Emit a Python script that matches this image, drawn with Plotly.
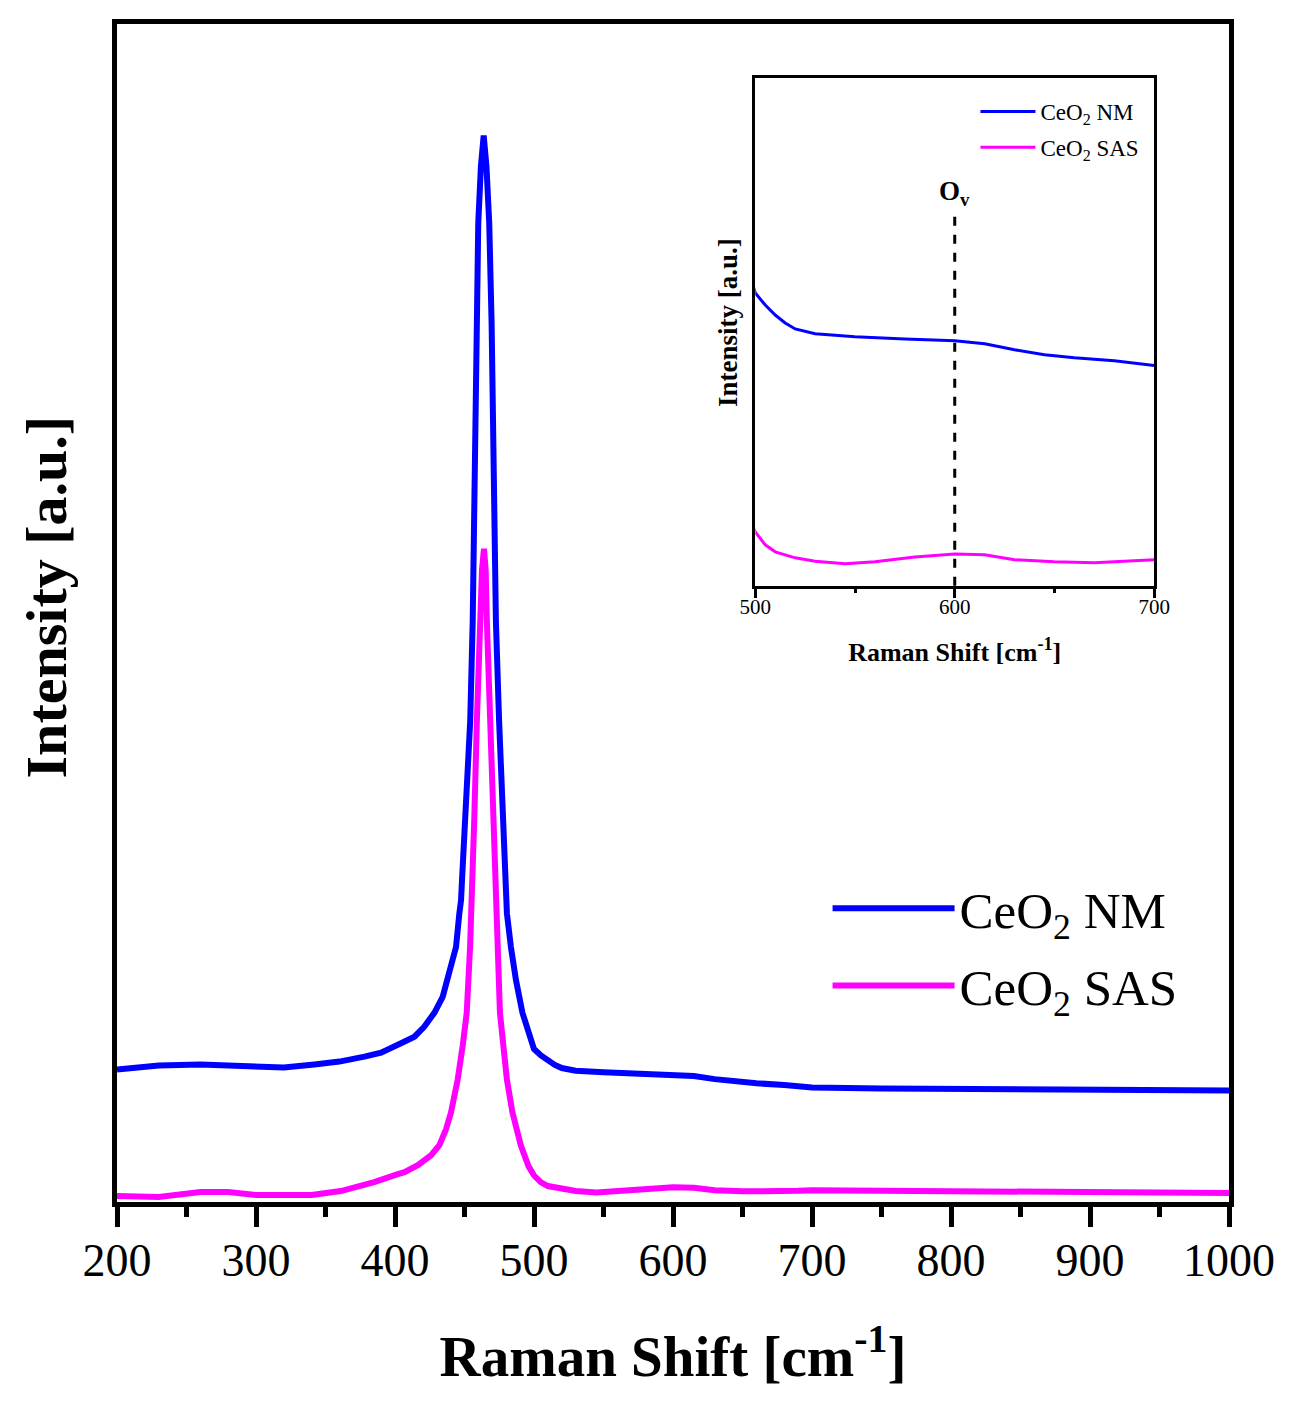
import plotly.graph_objects as go

# Raman spectra (intensity in arbitrary units)
nm_shift = [200, 230, 260, 300, 320, 342, 360, 378, 390, 406.6, 414, 421, 428.3,
            434.3, 437.9, 443.9, 446.3, 447.5, 448.2, 450.4, 454.1, 455.9, 457, 457.7,
            458.7, 459.9, 461.8, 463.8, 465.8, 467.8, 469.5, 470.2, 471.4, 472.6, 474.9,
            477.3, 478.5, 480.5, 483.4, 487, 491.7, 496.5, 500, 505, 510, 515, 520, 530,
            550, 575, 600, 615, 630, 645, 660, 680, 700, 750, 850, 1000]
nm_int = [133, 137, 138, 136, 135, 138, 141, 146, 150, 161, 166, 176, 190,
          206, 223, 256, 290, 303, 323, 383, 483, 583, 683, 783,
          883, 983, 1040, 1071, 1040, 983, 883, 783, 683, 583, 483,
          383, 330, 290, 256, 223, 190, 166, 153.6, 147.2, 141.9, 137.7, 134.5, 131.9,
          130.3, 129.2, 128.2, 126.6, 123.4, 120.8, 119.2, 117.6, 115, 114, 113, 112]

sas_shift = [200, 230, 260, 280, 300, 340, 361, 385, 402, 406.8, 416.4, 426, 431.9,
             436.7, 440.3, 445.1, 448.7, 451.6, 454, 455.4, 455.9, 457, 458.9, 461.1,
             462.6, 464, 465.2, 466.1, 468.4, 470.2, 471.9, 473.3, 475.5, 480.5, 484.5,
             490.5, 496, 500, 505, 510, 520, 530, 545, 560, 580, 600, 615, 630, 650,
             670, 690, 700, 800, 900, 1000]
sas_int = [6, 5, 10, 10, 7, 7, 11, 20, 28, 30, 37, 47, 57,
           73, 90, 123, 157, 190, 256, 303, 323, 383, 483, 583,
           635, 656, 635, 583, 483, 383, 323, 256, 190, 123, 90,
           57, 36, 26.6, 19.7, 16, 12.8, 11, 9.6, 10.7, 13.3, 14.9, 14.4, 11.8, 10.7,
           10.2, 11.2, 11.8, 11, 10, 9]

series = [("CeO<sub>2</sub> NM", nm_shift, nm_int, "#0000FF", "nm"),
          ("CeO<sub>2</sub> SAS", sas_shift, sas_int, "#FF00FF", "sas")]

serif = "Liberation Serif, Times New Roman, serif"

fig = go.Figure()

for name, x, y, col, grp in series:
    fig.add_trace(go.Scatter(x=x, y=y, mode="lines", name=name, legendgroup=grp,
                             line=dict(color=col, width=6), legend="legend"))

# inset: same spectra, zoomed on the oxygen vacancy band
for name, x, y, col, grp in series:
    fig.add_trace(go.Scatter(x=x, y=y, mode="lines", name=name, legendgroup=grp,
                             line=dict(color=col, width=3),
                             xaxis="x2", yaxis="y2", legend="legend2"))

fig.add_shape(type="line", xref="x2", yref="y2 domain", x0=600, x1=600, y0=0, y1=0.74,
              line=dict(color="black", width=3, dash="dash"))
fig.add_annotation(text="<b>O<sub>v</sub></b>", xref="x2", yref="y2 domain",
                   x=600, y=0.81, showarrow=False, font=dict(size=27, color="black"))

# y titles placed by hand (both sit a little above the plot centre)
fig.add_annotation(text="<b>Intensity [a.u.]</b>", xref="paper", yref="paper",
                   x=-0.063, y=0.514, textangle=-90, showarrow=False,
                   xanchor="center", yanchor="middle", font=dict(size=58, color="black"))
fig.add_annotation(text="<b>Intensity [a.u.]</b>", xref="x2 domain", yref="y2 domain",
                   x=-0.07, y=0.518, textangle=-90, showarrow=False,
                   xanchor="center", yanchor="middle", font=dict(size=27, color="black"))

fig.update_layout(
    width=1295, height=1411,
    margin=dict(l=109, r=74, t=11, b=217),
    paper_bgcolor="white", plot_bgcolor="white",
    font=dict(family=serif, color="black"),
    xaxis=dict(
        range=[200, 1000], dtick=100, ticks="outside", ticklen=20, tickwidth=5,
        tickcolor="black", minor=dict(dtick=50, ticks="outside", ticklen=10, tickwidth=5,
                                      tickcolor="black"),
        showline=True, linewidth=5, linecolor="black", mirror=True,
        showgrid=False, zeroline=False, tickfont=dict(size=46), ticklabelstandoff=-6,
        title=dict(text="<b>Raman Shift [cm<sup>-1</sup>]</b>", font=dict(size=57),
                   standoff=52),
    ),
    yaxis=dict(
        range=[0, 1183], showticklabels=False, ticks="",
        showline=True, linewidth=5, linecolor="black", mirror=True,
        showgrid=False, zeroline=False,
    ),
    xaxis2=dict(
        domain=[0.574, 0.9327], anchor="y2", range=[500, 700], dtick=100,
        ticks="outside", ticklen=9, tickwidth=3, tickcolor="black",
        minor=dict(dtick=50, ticks="outside", ticklen=4, tickwidth=3, tickcolor="black"),
        showline=True, linewidth=3, linecolor="black", mirror=True,
        showgrid=False, zeroline=False, tickfont=dict(size=21), ticklabelstandoff=-9,
        title=dict(text="<b>Raman Shift [cm<sup>-1</sup>]</b>", font=dict(size=26),
                   standoff=25),
    ),
    yaxis2=dict(
        domain=[0.5232, 0.9543], anchor="x2", range=[-2, 268],
        showticklabels=False, ticks="",
        showline=True, linewidth=3, linecolor="black", mirror=True,
        showgrid=False, zeroline=False,
    ),
    legend=dict(x=0.639, y=0.283, xanchor="left", yanchor="top", tracegroupgap=8,
                bgcolor="rgba(0,0,0,0)", font=dict(size=51), itemwidth=122),
    legend2=dict(x=0.772, y=0.944, xanchor="left", yanchor="top", tracegroupgap=3,
                 bgcolor="rgba(0,0,0,0)", font=dict(size=23), itemwidth=55),
)

fig.write_html("out.html")
